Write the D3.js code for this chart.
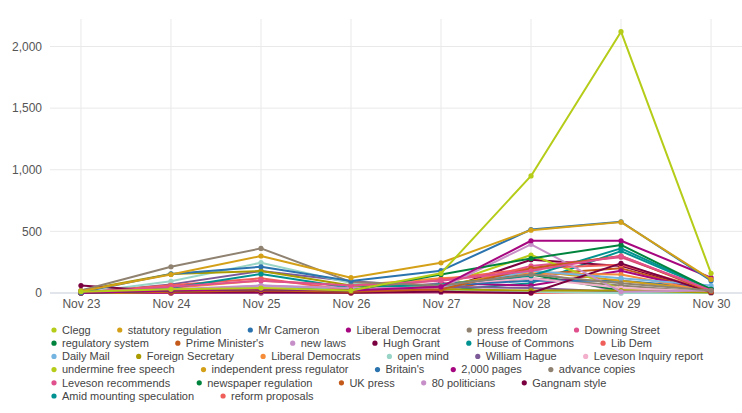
<!DOCTYPE html>
<html>
<head>
<meta charset="utf-8">
<script src="https://cdn.jsdelivr.net/npm/d3@7"></script>
<style>
  body { margin: 0; background: #fff; }
  svg { display: block; font-family: "Liberation Sans", Arial, sans-serif; }
</style>
</head>
<body>
<div id="chart"></div>
<script>
// dates on the x axis
const dates = ["Nov 23", "Nov 24", "Nov 25", "Nov 26", "Nov 27", "Nov 28", "Nov 29", "Nov 30"];

// phrase names, in legend order
const names = [
  "Clegg", "statutory regulation", "Mr Cameron", "Liberal Democrat", "press freedom", "Downing Street",
  "regulatory system", "Prime Minister's", "new laws", "Hugh Grant", "House of Commons", "Lib Dem",
  "Daily Mail", "Foreign Secretary", "Liberal Democrats", "open mind", "William Hague", "Leveson Inquiry report",
  "undermine free speech", "independent press regulator", "Britain's", "2,000 pages", "advance copies",
  "Leveson recommends", "newspaper regulation", "UK press", "80 politicians", "Gangnam style",
  "Amid mounting speculation", "reform proposals"
];

// mentions per day, one row per phrase (same order as names)
const values = [
  [10, 30, 40, 20, 160, 950, 2120, 160],
  [15, 150, 300, 124, 245, 510, 575, 110],
  [5, 155, 213, 97, 181, 515, 578, 100],
  [0, 20, 30, 20, 50, 424, 424, 124],
  [20, 213, 362, 90, 60, 150, 80, 20],
  [5, 50, 100, 60, 100, 180, 300, 20],
  [0, 20, 30, 20, 150, 280, 390, 30],
  [0, 10, 20, 10, 30, 200, 300, 10],
  [0, 30, 60, 40, 40, 395, 10, 20],
  [60, 10, 10, 5, 10, 0, 240, 5],
  [5, 40, 154, 40, 70, 140, 362, 30],
  [5, 62, 119, 20, 110, 200, 230, 20],
  [0, 20, 60, 30, 40, 180, 120, 60],
  [20, 154, 178, 60, 30, 20, 20, 5],
  [0, 40, 100, 60, 120, 160, 150, 10],
  [0, 95, 246, 80, 30, 10, 0, 0],
  [0, 70, 178, 95, 50, 40, 10, 5],
  [0, 20, 40, 60, 70, 120, 40, 10],
  [0, 10, 20, 10, 60, 308, 30, 5],
  [0, 10, 30, 10, 60, 180, 100, 20],
  [5, 20, 40, 30, 60, 100, 100, 40],
  [0, 5, 10, 10, 80, 60, 180, 10],
  [0, 10, 20, 40, 50, 120, 60, 5],
  [0, 5, 10, 10, 30, 220, 290, 30],
  [0, 10, 20, 10, 70, 150, 20, 5],
  [0, 5, 10, 5, 20, 150, 200, 10],
  [0, 5, 5, 5, 5, 190, 0, 0],
  [0, 0, 0, 0, 20, 270, 220, 10],
  [0, 5, 10, 5, 20, 80, 340, 30],
  [0, 0, 5, 0, 5, 0, 10, 0]
];

const yTicks = [0, 500, 1000, 1500, 2000];

// 18 colour palette, repeats after the 18th series
const palette = [
  "#b5cc18", "#d4a017", "#2a73ae", "#a6067f", "#8f8270", "#e0508c",
  "#00843d", "#c45a1a", "#c78fc8", "#7a0040", "#009290", "#f05e5a",
  "#74b4e0", "#a99b00", "#f48c3a", "#98d5c7", "#7c5a98", "#f3b0cc"
];

const width = 742, height = 413;
const plot = { left: 50, right: 742, top: 19, bottom: 293 };

const svg = d3.select("#chart").append("svg")
  .attr("width", width)
  .attr("height", height);

const x = d3.scalePoint()
  .domain(dates)
  .range([plot.left, plot.right])
  .padding(0.344);

const y = d3.scaleLinear()
  .domain([0, 2223])
  .range([plot.bottom, plot.top]);

const color = i => palette[i % palette.length];

// gridlines
svg.append("g")
  .selectAll("line")
  .data(yTicks.filter(d => d > 0))
  .join("line")
  .attr("x1", plot.left).attr("x2", plot.right)
  .attr("y1", d => y(d)).attr("y2", d => y(d))
  .attr("stroke", "#e9e9e9");

svg.append("g")
  .selectAll("line")
  .data(dates)
  .join("line")
  .attr("x1", d => x(d)).attr("x2", d => x(d))
  .attr("y1", plot.top).attr("y2", plot.bottom)
  .attr("stroke", "#e9e9e9");

// y axis labels
const yAxis = svg.append("g")
  .attr("transform", `translate(${plot.left - 8},0)`)
  .call(d3.axisLeft(y).tickValues(yTicks).tickSize(0).tickPadding(0).tickFormat(d3.format(",")));
yAxis.select(".domain").remove();
yAxis.selectAll("text")
  .attr("font-size", 12)
  .attr("font-family", "Liberation Sans, Arial, sans-serif")
  .attr("fill", "#555");

// x axis
const xAxis = svg.append("g")
  .attr("transform", `translate(0,${plot.bottom})`)
  .call(d3.axisBottom(x).tickSize(0).tickPadding(6));
xAxis.select(".domain").attr("stroke", "#c5cbd8").attr("d", `M${plot.left},0H${plot.right}`);
xAxis.selectAll("text")
  .attr("font-size", 12)
  .attr("font-family", "Liberation Sans, Arial, sans-serif")
  .attr("fill", "#555");

// series
const series = names.map((name, i) => ({
  name: name,
  color: color(i),
  points: dates.map((d, j) => ({ date: d, value: values[i][j] }))
}));

const line = d3.line()
  .x(d => x(d.date))
  .y(d => y(d.value));

const drawOrder = series.slice().reverse();

const groups = svg.append("g")
  .selectAll("g")
  .data(drawOrder)
  .join("g");

groups.append("path")
  .attr("d", d => line(d.points))
  .attr("fill", "none")
  .attr("stroke", d => d.color)
  .attr("stroke-width", 2)
  .attr("stroke-linejoin", "round");

groups.selectAll("circle")
  .data(d => d.points.map(p => ({ ...p, color: d.color })))
  .join("circle")
  .attr("cx", d => x(d.date))
  .attr("cy", d => y(d.value))
  .attr("r", 2.6)
  .attr("fill", d => d.color);

// legend, flowing left to right and wrapping
const legend = svg.append("g");
const legendLeft = 54, legendMax = 735, rowH = 13.2;
let lx = legendLeft, ly = 330;

series.forEach(s => {
  const item = legend.append("g");
  const label = item.append("text")
    .attr("x", 8)
    .attr("dy", "0.35em")
    .attr("font-size", 11)
    .attr("fill", "#444")
    .text(s.name);
  const w = label.node().getComputedTextLength();
  if (lx + 8 + w > legendMax) {
    lx = legendLeft;
    ly += rowH;
  }
  item.attr("transform", `translate(${lx},${ly})`);
  item.append("circle")
    .attr("r", 2.6)
    .attr("fill", s.color);
  lx += 8 + w + 29;
});
</script>
</body>
</html>
